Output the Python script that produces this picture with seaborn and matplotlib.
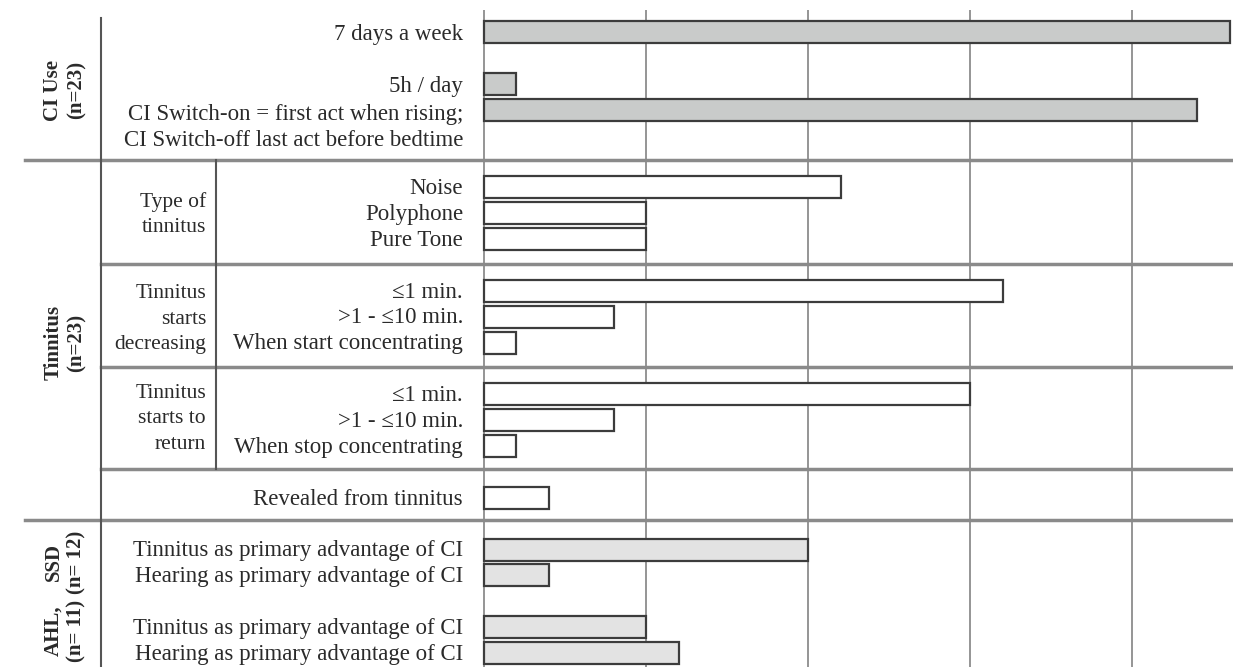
import matplotlib
matplotlib.use('Agg')
import matplotlib.pyplot as plt
import seaborn as sns

# bar labels and counts (patients)
ci_labels = ['7 days a week', '5h / day',
             'CI Switch-on = first act when rising;\nCI Switch-off last act before bedtime']
ci_values = [23, 1, 22]
ci_rows = [0, 2, 3]

tin_labels = ['Noise', 'Polyphone', 'Pure Tone',
              '≤1 min.', '>1 - ≤10 min.', 'When start concentrating',
              '≤1 min.', '>1 - ≤10 min.', 'When stop concentrating',
              'Revealed from tinnitus']
tin_values = [11, 5, 5, 16, 4, 1, 15, 4, 1, 2]
tin_rows = [6, 7, 8, 10, 11, 12, 14, 15, 16, 18]

adv_labels = ['Tinnitus as primary advantage of CI', 'Hearing as primary advantage of CI',
              'Tinnitus as primary advantage of CI', 'Hearing as primary advantage of CI']
adv_values = [10, 2, 5, 6]
adv_rows = [20, 21, 23, 24]

sub_labels = ['Type of\ntinnitus', 'Tinnitus\nstarts\ndecreasing', 'Tinnitus\nstarts to\nreturn']
sub_rows = [7.05, 11.1, 14.95]

group_labels = ['CI Use\n(n=23)', 'Tinnitus\n(n=23)', 'SSD\n(n= 12)', 'AHL,\n(n= 11)']
group_rows = [2.25, 12.0, 20.5, 23.15]

W, H = 1233, 667
fig = plt.figure(figsize=(W / 100, H / 100), dpi=100)
ax = fig.add_axes([0, 0, 1, 1 - 10 / H])

x0, xr = 484, 23.1
unit = (W - x0) / xr
def px(p):
    return (p - x0) / unit

edge = '#3c3c3c'
sns.barplot(x=ci_values, y=ci_rows, orient='h', native_scale=True, width=0.85,
            color='#c9cbca', edgecolor=edge, linewidth=1.6, saturation=1, ax=ax, zorder=3)
sns.barplot(x=tin_values, y=tin_rows, orient='h', native_scale=True, width=0.85,
            color='white', edgecolor=edge, linewidth=1.6, saturation=1, ax=ax, zorder=3)
sns.barplot(x=adv_values, y=adv_rows, orient='h', native_scale=True, width=0.85,
            color='#e3e3e3', edgecolor=edge, linewidth=1.6, saturation=1, ax=ax, zorder=3)

ax.set_xlim(px(0), xr)
ax.set_ylim(24.54, -0.85)
ax.set_xticks([0, 5, 10, 15, 20])
ax.set_yticks([])
ax.grid(axis='x', color='#8c8c8c', lw=1.3, zorder=0)
ax.grid(axis='y', visible=False)
ax.tick_params(length=0, labelbottom=False)
ax.set_xlabel('')
ax.set_ylabel('')
for s in ax.spines.values():
    s.set_visible(False)

serif = ['Liberation Serif', 'DejaVu Serif']
fs = 16.5
tc = '#2a2a2a'
lx = px(463)
for lab, r in zip(ci_labels, ci_rows):
    if '\n' in lab:
        ax.text(lx, r + 0.68, lab, ha='right', va='center', fontsize=fs,
                family=serif, linespacing=1.33, color=tc)
    else:
        ax.text(lx, r + 0.1, lab, ha='right', va='center', fontsize=fs, family=serif, color=tc)
for lab, r in zip(tin_labels + adv_labels, tin_rows + adv_rows):
    ax.text(lx, r + 0.05, lab, ha='right', va='center', fontsize=fs, family=serif, color=tc)

for lab, r in zip(sub_labels, sub_rows):
    ax.text(px(206), r, lab, ha='right', va='center', fontsize=15.5, family=serif,
            linespacing=1.45, color=tc)

for lab, r in zip(group_labels, group_rows):
    ax.text(px(65), r, lab, ha='center', va='center', rotation=90, fontsize=15,
            family=serif, fontweight='bold', linespacing=1.2, color=tc)

# table rules
sep = '#8a8a8a'
ax.plot([px(25), xr], [4.95, 4.95], color=sep, lw=2.5, zorder=4)
ax.plot([px(101), xr], [8.97, 8.97], color=sep, lw=2.5, zorder=4)
ax.plot([px(101), xr], [12.95, 12.95], color=sep, lw=2.5, zorder=4)
ax.plot([px(101), xr], [16.9, 16.9], color=sep, lw=2.5, zorder=4)
ax.plot([px(25), xr], [18.86, 18.86], color=sep, lw=2.5, zorder=4)
ax.plot([px(101), px(101)], [-0.55, 24.54], color='#555', lw=1.5, zorder=4)
ax.plot([px(216), px(216)], [4.95, 16.9], color='#555', lw=1.5, zorder=4)

fig.savefig('out.png', dpi=100)
